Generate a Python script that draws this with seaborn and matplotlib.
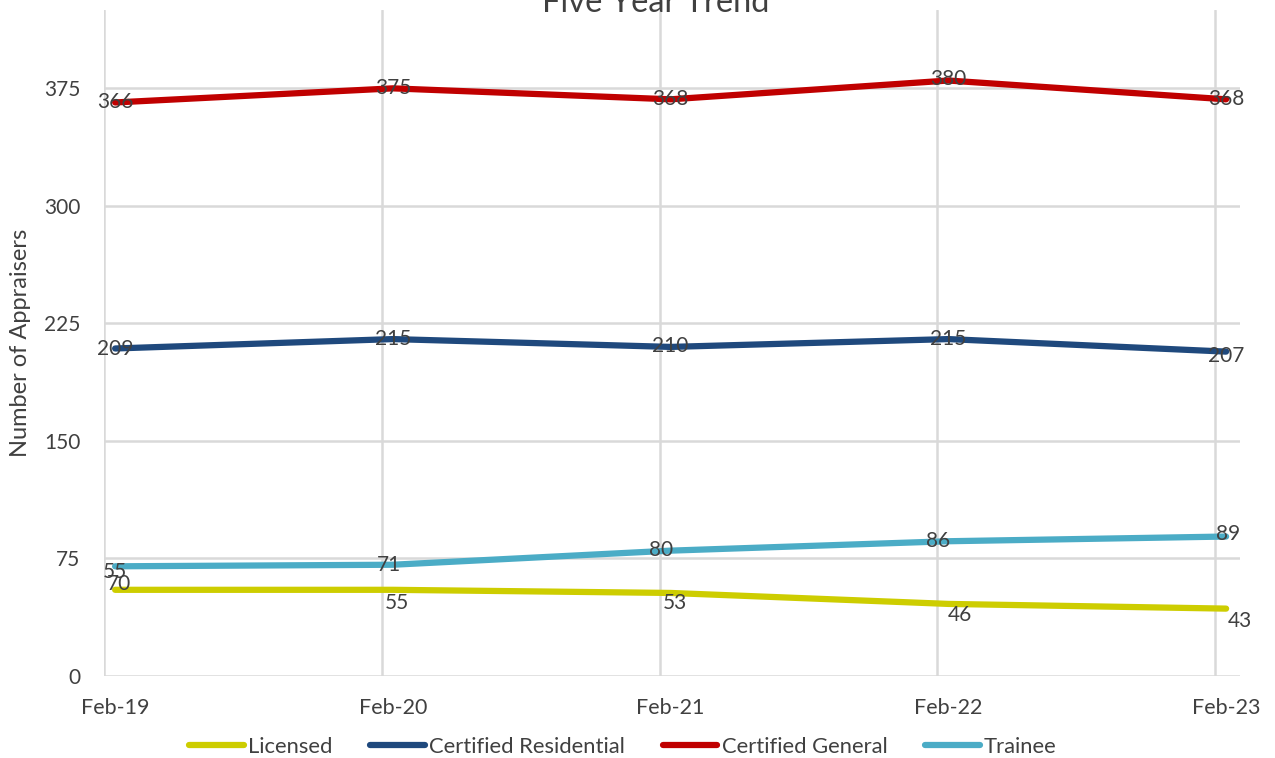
import pandas as pd
import seaborn as sns
import matplotlib.pyplot as plt

# chart data
months = ['Feb-19', 'Feb-20', 'Feb-21', 'Feb-22', 'Feb-23']
licensed = [55, 55, 53, 46, 43]
cert_residential = [209, 215, 210, 215, 207]
cert_general = [366, 375, 368, 380, 368]
trainee = [70, 71, 80, 86, 89]
series_names = ['Licensed', 'Certified Residential', 'Certified General', 'Trainee']
colors = ['#CDCD00', '#1F497D', '#C00000', '#4BACC6']

df = pd.DataFrame({'Month': months, 'Licensed': licensed,
                   'Certified Residential': cert_residential,
                   'Certified General': cert_general, 'Trainee': trainee})
df['x'] = range(len(months))
long_df = df.melt(id_vars=['Month', 'x'], var_name='Type', value_name='Count')

sns.set_style('white')
plt.rcParams['font.family'] = ['Lato', 'DejaVu Sans']
text_color = '#404040'

fig = plt.figure(figsize=(12.75, 7.58), dpi=100)
ax = fig.add_axes([104 / 1275, 82 / 758, 1136 / 1275, 666 / 758])

# gridlines
for v in [0, 75, 150, 225, 300, 375]:
    ax.axhline(v, color='#D9D9D9', lw=1.8, zorder=0)
for i in range(len(months)):
    ax.axvline(i - 0.04, color='#D9D9D9', lw=1.8, zorder=0)

sns.lineplot(data=long_df, x='x', y='Count', hue='Type', hue_order=series_names,
             palette=colors, linewidth=4.5, ax=ax, legend=False,
             solid_capstyle='round')

# data labels (offsets in pixels)
label_offsets = {
    'Licensed': [(0, 18), (4, -13), (4, -10), (12, -11), (14, -12)],
    'Certified Residential': [(0, -1), (0, 0), (0, 1), (0, 0), (0, -4)],
    'Certified General': [(0, 0), (0, 0), (0, 0), (0, 2), (0, 0)],
    'Trainee': [(4, -18), (-4, 0), (-10, 1), (-10, 0), (2, 3)],
}
for name in series_names:
    for i, val in enumerate(df[name]):
        dx, dy = label_offsets[name][i]
        ax.annotate(str(val), (i, val), xytext=(dx * 0.72, dy * 0.72),
                    textcoords='offset points', ha='center', va='center',
                    fontsize=15, color=text_color, zorder=5)

ax.set_xlim(-0.04, 4.05)
ax.set_ylim(0, 425)
ax.set_xticks(range(len(months)))
ax.set_xticklabels(months)
ax.set_yticks([0, 75, 150, 225, 300, 375])
ax.tick_params(axis='x', length=0, pad=16, labelsize=15.5, labelcolor=text_color)
ax.tick_params(axis='y', length=0, pad=17, labelsize=15, labelcolor=text_color)
ax.set_xlabel('')
ax.set_ylabel('Number of Appraisers', fontsize=17, color=text_color)
ax.yaxis.set_label_coords(-0.064, 0.5)
for s in ax.spines.values():
    s.set_visible(False)

fig.text(656 / 1275, 1 - 12 / 758, 'Five Year Trend', ha='center', va='baseline',
         fontsize=23.5, color=text_color)

# legend
handles = [plt.Line2D([], [], color=c, lw=4.5, solid_capstyle='round') for c in colors]
fig.legend(handles, series_names, loc='center', bbox_to_anchor=(623 / 1275, 1 - 747 / 758),
           ncol=4, frameon=False, fontsize=15.8, handlelength=2.5, handletextpad=0.2,
           columnspacing=1.7, labelcolor=text_color)

fig.savefig('out.png', dpi=100)
